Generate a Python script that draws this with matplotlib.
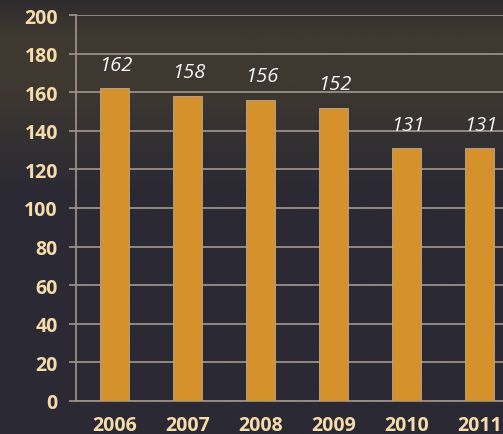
import numpy as np
import matplotlib.pyplot as plt

# chart data
years = ['2006', '2007', '2008', '2009', '2010', '2011']
values = [162, 158, 156, 152, 131, 131]
yticks = [0, 20, 40, 60, 80, 100, 120, 140, 160, 180, 200]

label_col = '#f6dcaa'
grid_col = '#9b8f86'
bar_col = '#d4912c'

fig = plt.figure(figsize=(5.03, 4.35), dpi=100)
fig.patch.set_facecolor('#2b2a34')

# dark photo-like backdrop: brownish near the top, dark blue-grey lower down
bg = fig.add_axes([0, 0, 1, 1])
grad = np.linspace(0, 1, 256).reshape(-1, 1)
edge = np.array([0x2e, 0x2b, 0x2e]) / 255
mid = np.array([0x3e, 0x38, 0x30]) / 255
bot = np.array([0x2a, 0x29, 0x34]) / 255
img = np.zeros((256, 1, 3))
for i in range(256):
    t = grad[i, 0]
    if t < 0.08:
        c = edge + (mid - edge) * (t / 0.08)
    elif t < 0.2:
        c = mid
    elif t < 0.45:
        c = mid + (bot - mid) * ((t - 0.2) / 0.25)
    else:
        c = bot
    img[i, 0] = c
bg.imshow(img, aspect='auto', extent=[0, 1, 0, 1])
bg.axis('off')

ax = fig.add_axes([76 / 503, 33 / 435, 440 / 503, 386 / 435])
ax.set_facecolor('none')

x = np.arange(len(years))
ax.bar(x, values, width=0.4, color=bar_col, edgecolor='#b8a898', linewidth=0.6, zorder=3)

for xi, v in zip(x, values):
    ax.annotate(str(v), (xi, v), xytext=(1, 17), textcoords='offset points',
                ha='center', va='center', color='#f7f7f7', fontsize=14.5,
                fontstyle='italic', family='Open Sans')

ax.set_xlim(-0.53, 5.5)
ax.set_ylim(0, 200)
ax.set_yticks(yticks)
ax.set_xticks(x)
ax.set_xticklabels(years)
ax.yaxis.grid(True, color=grid_col, linewidth=1.3, zorder=1)
ax.set_axisbelow(True)

for s in ['top', 'right']:
    ax.spines[s].set_visible(False)
ax.spines['left'].set_color(grid_col)
ax.spines['left'].set_linewidth(1.3)
ax.spines['bottom'].set_color(grid_col)
ax.spines['bottom'].set_linewidth(1.3)

ax.tick_params(axis='y', length=5, width=1.3, color=grid_col, pad=8,
               labelcolor=label_col, labelsize=14)
ax.tick_params(axis='x', length=0, pad=10, labelcolor=label_col, labelsize=14)
for lab in ax.get_xticklabels() + ax.get_yticklabels():
    lab.set_fontweight('bold')
    lab.set_family('Open Sans')

fig.savefig('out.png', dpi=100, facecolor=fig.get_facecolor())
